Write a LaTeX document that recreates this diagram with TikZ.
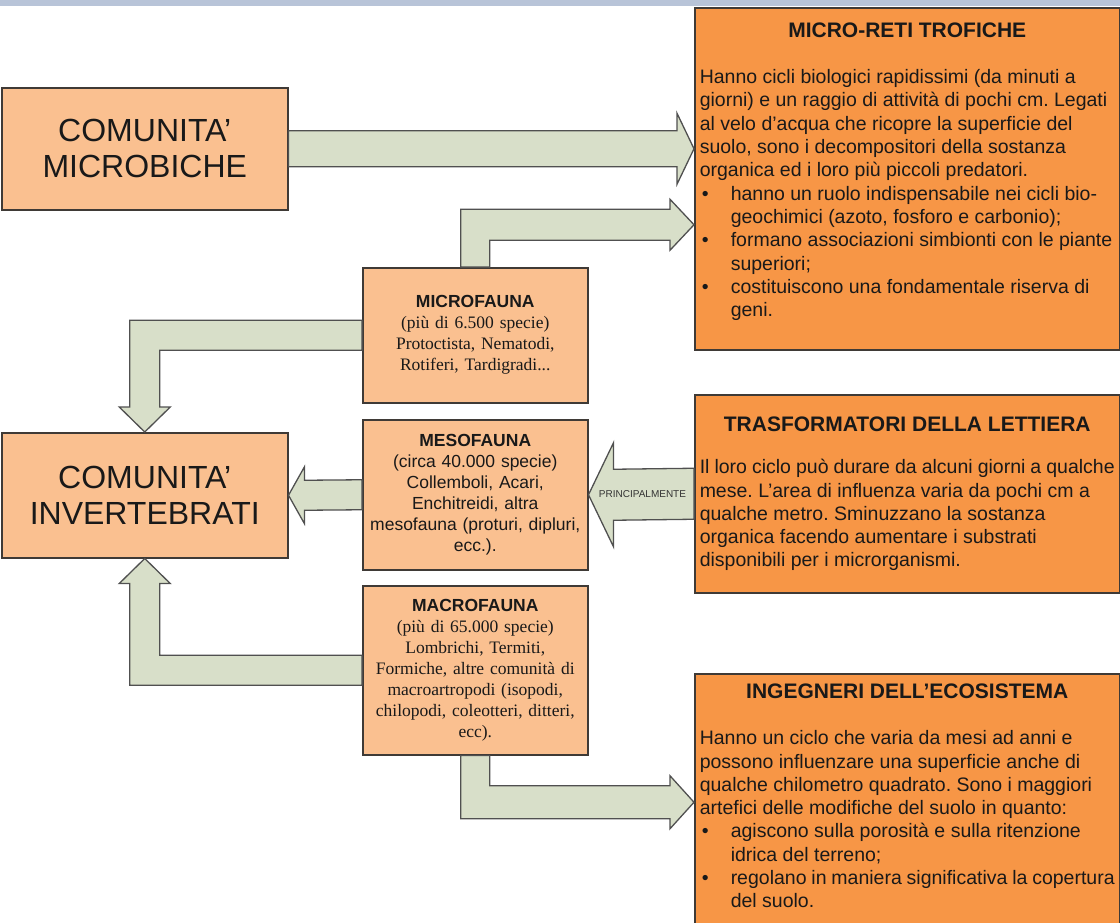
\documentclass[tikz,border=0pt]{standalone}
\usepackage{fontspec}
\setmainfont{Liberation Sans}
\newfontfamily\serifrm{Liberation Serif}
\usetikzlibrary{calc}
\frenchspacing

\definecolor{topbar}{HTML}{B8C4D8}
\definecolor{peach}{HTML}{FAC090}
\definecolor{orangebox}{HTML}{F79646}
\definecolor{arrowfill}{HTML}{D8DFC9}
\definecolor{edgegray}{HTML}{3F3A36}
\definecolor{arrowedge}{HTML}{505050}

\newcommand{\bulletline}{\par\hangindent=31pt\hangafter=1\noindent\makebox[31pt][l]{\hspace{2pt}\textbullet}}

\tikzset{
  leftbox/.style={draw=edgegray, line width=1.5pt, fill=peach, anchor=north west, inner sep=0pt,
    align=center, minimum width=286pt, text=black!90, font=\fontsize{32}{36}\selectfont},
  faunabox/.style={draw=edgegray, line width=1.5pt, fill=peach, anchor=north west, inner sep=0pt,
    text width=225pt, align=center, minimum width=225pt, text=black!90},
  infobox/.style={draw=edgegray, line width=1.5pt, fill=orangebox, anchor=north west,
    inner xsep=5pt, inner ysep=0pt, text=black!90},
  blockarrow/.style={draw=arrowedge, line width=1.3pt, fill=arrowfill, line join=miter},
}

\begin{document}
\begin{tikzpicture}[x=1pt,y=-1pt]
\useasboundingbox (0,0) rectangle (1120,922);
\fill[topbar] (0,0) rectangle (1120,6);

\node[leftbox, minimum height=122pt] (microbiche) at (1,87) {COMUNITA’\\MICROBICHE};
\node[leftbox, minimum height=125pt] (invertebrati) at (1,432) {COMUNITA’\\INVERTEBRATI};

\node[faunabox, minimum height=135pt, font=\serifrm\fontsize{17.5}{21}\selectfont] (microfauna) at (362,267)
  {{\rmfamily\bfseries\fontsize{17.5}{21}\selectfont MICROFAUNA}\\
   (più di 6.500 specie)\\ Protoctista, Nematodi,\\ Rotiferi, Tardigradi...};
\node[faunabox, minimum height=150pt, font=\fontsize{17.5}{21}\selectfont] (mesofauna) at (362,419)
  {{\bfseries\fontsize{17.5}{21}\selectfont MESOFAUNA}\\
   (circa 40.000 specie)\\ Collemboli, Acari,\\ Enchitreidi, altra\\ mesofauna (proturi, dipluri,\\ ecc.).};
\node[faunabox, minimum height=169pt, font=\serifrm\fontsize{17.5}{21}\selectfont] (macrofauna) at (362,585)
  {{\rmfamily\bfseries\fontsize{17.5}{21}\selectfont MACROFAUNA}\\
   (più di 65.000 specie)\\ Lombrichi, Termiti,\\ Formiche, altre comunità di\\
   macroartropodi (isopodi,\\ chilopodi, coleotteri, ditteri,\\ ecc).};

\node[infobox] (microreti) at (694,7) {\parbox[c][342pt][t]{415pt}{\fontsize{19.5}{23.3}\selectfont\raggedright
  \vspace*{14.6pt}
  {\centering\bfseries\fontsize{21}{23.3}\selectfont MICRO-RETI TROFICHE\par}
  \vspace{23.3pt}
  Hanno cicli biologici rapidissimi (da minuti a\\
  giorni) e un raggio di attività di pochi cm. Legati\\
  al velo d’acqua che ricopre la superficie del\\
  suolo, sono i decompositori della sostanza\\
  organica ed i loro più piccoli predatori.
  \bulletline hanno un ruolo indispensabile nei cicli bio-\newline geochimici (azoto, fosforo e carbonio);
  \bulletline formano associazioni simbionti con le piante\newline superiori;
  \bulletline costituiscono una fondamentale riserva di\newline geni.\par}};

\node[infobox] (trasformatori) at (694,394) {\parbox[c][198pt][t]{415pt}{\fontsize{19.5}{23.3}\selectfont\raggedright
  \vspace*{22pt}
  {\centering\bfseries\fontsize{21}{23.3}\selectfont TRASFORMATORI DELLA LETTIERA\par}
  \vspace{19pt}
  Il loro ciclo può durare da alcuni giorni a qualche\\
  mese. L’area di influenza varia da pochi cm a\\
  qualche metro. Sminuzzano la sostanza\\
  organica facendo aumentare i substrati\\
  disponibili per i microrganismi.\par}};

\node[infobox] (ingegneri) at (694,673) {\parbox[c][257pt][t]{415pt}{\fontsize{19.5}{23.3}\selectfont\raggedright
  \vspace*{10pt}
  {\centering\bfseries\fontsize{21}{23.3}\selectfont INGEGNERI DELL’ECOSISTEMA\par}
  \vspace{23pt}
  Hanno un ciclo che varia da mesi ad anni e\\
  possono influenzare una superficie anche di\\
  qualche chilometro quadrato. Sono i maggiori\\
  artefici delle modifiche del suolo in quanto:
  \bulletline agiscono sulla porosità e sulla ritenzione\newline idrica del terreno;
  \bulletline regolano in maniera significativa la copertura\newline del suolo.\par}};

\coordinate (tipA) at (microreti.west |- microbiche.east);
\coordinate (tipB) at ($(microreti.west)+(0,46)$);
\coordinate (tipG) at (ingegneri.west);

\draw[blockarrow] ($(microbiche.east)+(0,-18)$) -- ($(tipA)+(-17,-18)$) -- ($(tipA)+(-17,-35.5)$) -- (tipA)
  -- ($(tipA)+(-17,35.5)$) -- ($(tipA)+(-17,18)$) -- ($(microbiche.east)+(0,18)$) -- cycle;
\draw[blockarrow] ($(microfauna.north)+(-14.5,0)$) |- ($(tipB)+(-24,-15.5)$) -- ($(tipB)+(-24,-25.5)$) -- (tipB)
  -- ($(tipB)+(-24,25.5)$) -- ($(tipB)+(-24,15.5)$) -| ($(microfauna.north)+(14.5,0)$) -- cycle;
\draw[blockarrow] ($(microfauna.west)+(0,-15)$) -| ($(invertebrati.north)+(-15,-25)$) -- ($(invertebrati.north)+(-25.5,-25)$)
  -- (invertebrati.north) -- ($(invertebrati.north)+(25.5,-25)$) -- ($(invertebrati.north)+(15,-25)$)
  |- ($(microfauna.west)+(0,15)$) -- cycle;
\draw[blockarrow] ($(mesofauna.west)+(0,-15)$) -- ($(invertebrati.east)+(16,-15)$) -- ($(invertebrati.east)+(16,-28.5)$)
  -- (invertebrati.east) -- ($(invertebrati.east)+(16,28.5)$) -- ($(invertebrati.east)+(16,15)$)
  -- ($(mesofauna.west)+(0,15)$) -- cycle;
\draw[blockarrow] ($(trasformatori.west)+(0,-25.5)$) -- ($(mesofauna.east)+(25,-25.5)$) -- ($(mesofauna.east)+(25,-52)$)
  -- (mesofauna.east) -- ($(mesofauna.east)+(25,52)$) -- ($(mesofauna.east)+(25,25.5)$)
  -- ($(trasformatori.west)+(0,25.5)$) -- cycle;
\node[font=\fontsize{10}{12}\selectfont, text=black!80] (principalmente) at ($(trasformatori.west)+(-51.5,0)$) {PRINCIPALMENTE};
\draw[blockarrow] ($(macrofauna.west)+(0,15)$) -| ($(invertebrati.south)+(-15,25)$) -- ($(invertebrati.south)+(-25.5,25)$)
  -- (invertebrati.south) -- ($(invertebrati.south)+(25.5,25)$) -- ($(invertebrati.south)+(15,25)$)
  |- ($(macrofauna.west)+(0,-15)$) -- cycle;
\draw[blockarrow] ($(macrofauna.south)+(-14.5,0)$) |- ($(tipG)+(-24,16.5)$) -- ($(tipG)+(-24,26.5)$) -- (tipG)
  -- ($(tipG)+(-24,-26.5)$) -- ($(tipG)+(-24,-16.5)$) -| ($(macrofauna.south)+(14.5,0)$) -- cycle;
\end{tikzpicture}
\end{document}
